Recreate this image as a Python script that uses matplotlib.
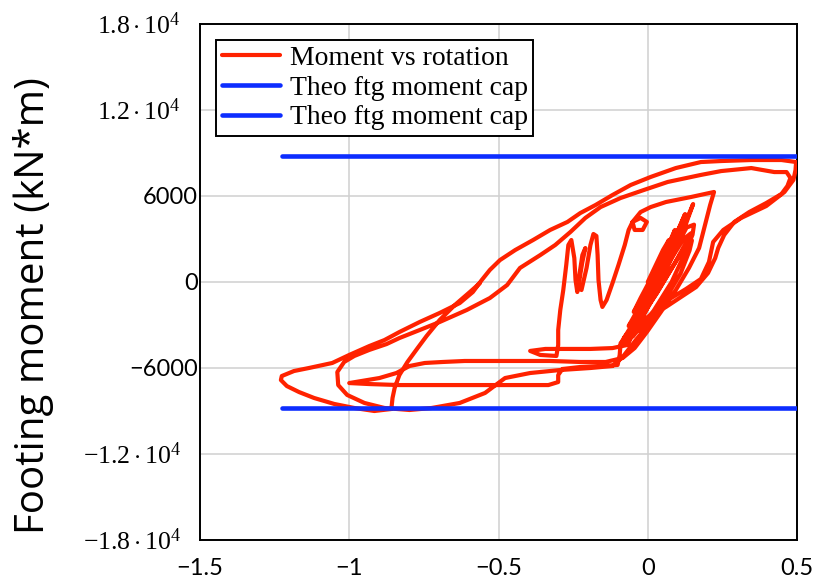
import numpy as np
import matplotlib
matplotlib.use("Agg")
import matplotlib.pyplot as plt

# mathtext in a Times-like serif for the "x.x·10^4" tick labels
plt.rcParams['mathtext.fontset'] = 'custom'
plt.rcParams['mathtext.rm'] = 'Liberation Serif'
plt.rcParams['mathtext.it'] = 'Liberation Serif:italic'
plt.rcParams['mathtext.bf'] = 'Liberation Serif:bold'

# footing rotation and moment (kN*m)
# small cycles around the origin
rot1 = [0.000, 0.027, 0.051, 0.071, 0.057, 0.017, -0.024, -0.047, -0.034, 0.003,
        0.037, 0.067, 0.091, 0.081, 0.044, 0.003, -0.034, -0.064, -0.047, -0.007,
        0.030, 0.071, 0.108, 0.125, 0.111, 0.071, 0.024, -0.020, -0.057, -0.077,
        -0.054, -0.013, 0.030, 0.071, 0.111, 0.145, 0.152, 0.138, 0.098, 0.051,
        0.003, -0.037, -0.040, 0.010, 0.057, 0.094, 0.118, 0.104, 0.054, 0.017,
        -0.030, -0.067,
        -0.080, -0.030, 0.030, 0.090, 0.130, 0.145, 0.120, 0.060, 0.000, -0.050,
        -0.085, -0.050, 0.020, 0.080, 0.120, 0.150, 0.155, 0.130, 0.090, 0.040,
        -0.010, -0.060, -0.020, 0.050, 0.110, 0.140, 0.148, 0.120, 0.070, 0.020,
        -0.030, -0.070]
mom1 = [0, 1190, 2230, 2930, 2230, 490, -1120, -2090, -1670, -280,
        1190, 2510, 3630, 3070, 1400, -420, -1950, -3070, -2650, -1260,
        280, 2090, 3910, 4740, 4050, 2230, 140, -1670, -3350, -4190,
        -3770, -2300, -560, 1260, 3070, 5020, 5440, 4740, 2650, 560,
        -1400, -3070, -3350, -980, 1400, 3210, 4190, 3490, 980, -700,
        -2790, -4330,
        -3900, -2600, -800, 1300, 2800, 3400, 3000, 1000, -1000, -2900,
        -4100, -3800, -2000, 0, 1800, 3300, 4000, 3800, 2200, 300,
        -1700, -3600, -3300, -1500, 600, 2200, 2900, 2300, 600, -1100,
        -2800, -4400]

# -0.4 cycle, the wiggles in the middle, up to the 0.22 peak
rot2 = [-0.118, -0.192, -0.293, -0.343, -0.394, -0.360, -0.306, -0.300, -0.300, -0.293,
        -0.283, -0.273, -0.266, -0.256, -0.246, -0.242, -0.236, -0.229, -0.219, -0.209,
        -0.219, -0.232, -0.222, -0.205, -0.192, -0.182, -0.172, -0.168, -0.165, -0.158,
        -0.152, -0.138, -0.118, -0.098, -0.077, -0.064, -0.051, -0.024, -0.003, -0.017,
        -0.044, -0.051, -0.024, 0.010, 0.061, 0.145, 0.222]
mom2 = [-4610, -4670, -4670, -4670, -4810, -5090, -5160, -4400, -3350, -1950,
        -560, 1190, 2580, 2930, 1670, 140, -700, 490, 1880, 2370,
        1400, -210, -560, 980, 2580, 3350, 3210, 1880, 140, -1260,
        -1740, -1260, -70, 1190, 2580, 3630, 4190, 4470, 4190, 3630,
        3630, 4190, 4880, 5230, 5580, 5930, 6280]

# -1.0 cycle and first big push to the right
rot3 = [0.209, 0.192, 0.172, 0.138, 0.094, 0.044, -0.003, -0.044, -0.084, -0.141,
        -0.226, -0.327, -0.428, -0.529, -0.613, -0.687, -0.747, -0.798, -0.842, -0.899,
        -0.960, -1.000, -0.933, -0.832, -0.697, -0.562, -0.428, -0.333, -0.300, -0.300,
        -0.286, -0.226, -0.158, -0.101, -0.094, -0.091, -0.051, 0.000, 0.061, 0.111,
        0.162, 0.202, 0.226, 0.236, 0.256, 0.290, 0.340, 0.397, 0.448, 0.468,
        0.478, 0.465]
mom3 = [5370, 3980, 2370, 980, -560, -2090, -3490, -4610, -5300, -5580,
        -5580, -5510, -5510, -5510, -5510, -5580, -5650, -5860, -6350, -6700,
        -6910, -7050, -7120, -7190, -7190, -7190, -7190, -7190, -6980, -6490,
        -6070, -5930, -5860, -5790, -5090, -4260, -3350, -2440, -1740, -1050,
        -350, 630, 1670, 2370, 3280, 4190, 4880, 5510, 6140, 6700,
        7260, 7670]

# -1.04 cycle and second big push to the right
rot4 = [0.424, 0.347, 0.246, 0.178, 0.067, -0.013, -0.091, -0.158, -0.209, -0.259,
        -0.310, -0.360, -0.428, -0.471, -0.529, -0.606, -0.697, -0.764, -0.832, -0.875,
        -0.933, -0.983, -1.017, -1.040, -1.037, -1.007, -0.949, -0.882, -0.798, -0.724,
        -0.630, -0.545, -0.478, -0.394, -0.293, -0.192, -0.118, -0.084, -0.040, 0.010,
        0.067, 0.128, 0.178, 0.205, 0.219, 0.253, 0.313, 0.397, 0.458, 0.488,
        0.495, 0.497]
mom4 = [7670, 7950, 7740, 7470, 6980, 6420, 5860, 5230, 4470, 3490,
        2580, 1880, 980, -210, -1120, -1950, -2790, -3350, -3910, -4330,
        -4740, -5160, -5580, -6280, -7190, -7880, -8440, -8790, -8930, -8790,
        -8440, -7740, -6700, -6350, -6140, -6000, -5860, -5230, -4050, -2790,
        -1260, -490, 210, 1400, 2790, 3630, 4470, 5300, 6280, 7120,
        7810, 8370]

# last cycle out to -1.23
rot5 = [0.448, 0.347, 0.246, 0.178, 0.094, 0.010, -0.057, -0.118, -0.175, -0.226,
        -0.269, -0.327, -0.384, -0.444, -0.495, -0.529, -0.556, -0.586, -0.630, -0.697,
        -0.764, -0.832, -0.882, -0.933, -1.000, -1.057, -1.135, -1.185, -1.226, -1.229,
        -1.209, -1.168, -1.118, -1.050, -0.983, -0.916, -0.859, -0.855, -0.848, -0.832,
        -0.805, -0.771, -0.741, -0.697, -0.646, -0.596, -0.562]
mom5 = [8510, 8510, 8440, 8370, 7950, 7330, 6770, 6070, 5370, 4810,
        4190, 3630, 2930, 2230, 1530, 840, 140, -700, -1470, -2160,
        -2790, -3490, -4050, -4470, -5090, -5650, -6000, -6210, -6560, -6840,
        -7260, -7680, -8090, -8510, -8790, -9000, -8860, -8090, -7400, -6490,
        -5580, -4610, -3770, -2650, -1600, -700, -70]

# theoretical footing moment capacity
cap_rot = [-1.225, 0.5]
cap_pos = 8790
cap_neg = -8790

x_ticks = [-1.5, -1.0, -0.5, 0.0, 0.5]
x_labels = ['\u22121.5', '\u22121', '\u22120.5', '0', '0.5']
y_ticks = [-18000, -12000, -6000, 0, 6000, 12000, 18000]
y_labels = [r'$-1.8\cdot10^{4}$', r'$-1.2\cdot10^{4}$', '\u22126000', '0',
            '6000', r'$1.2\cdot10^{4}$', r'$1.8\cdot10^{4}$']

red = '#ff2200'
blue = '#0d2dff'

fig = plt.figure(figsize=(8.27, 5.84), dpi=100)
ax = fig.add_axes([200 / 827, 1 - 540 / 584, 597 / 827, 516 / 584])

rotation = np.concatenate([rot1, rot2, rot3, rot4, rot5])
moment = np.concatenate([mom1, mom2, mom3, mom4, mom5])

ax.plot(rotation, moment, color=red, lw=3.0, solid_joinstyle='round',
        solid_capstyle='round', label='Moment vs rotation', zorder=3)
ax.plot(cap_rot, [cap_pos, cap_pos], color=blue, lw=3.3, solid_capstyle='round',
        label='Theo ftg moment cap', zorder=4)
ax.plot(cap_rot, [cap_neg, cap_neg], color=blue, lw=3.3, solid_capstyle='round',
        label='Theo ftg moment cap', zorder=4)

ax.set_xlim(-1.5, 0.5)
ax.set_ylim(-18000, 18000)
ax.set_xticks(x_ticks)
ax.set_xticklabels(x_labels, fontfamily='Lato', fontsize=17)
ax.set_yticks(y_ticks)
ax.set_yticklabels(y_labels)

ax.tick_params(axis='both', length=0)
ax.tick_params(axis='x', pad=13)
ax.tick_params(axis='y', pad=1.5)

# plain numbers in sans, the x.x·10^4 ones in serif and set further out
for tick, text in zip(ax.yaxis.get_major_ticks(), y_labels):
    if '$' in text:
        tick.label1.set_fontsize(18.5)
        tick.set_pad(14)
    else:
        tick.label1.set_fontfamily('Lato')
        tick.label1.set_fontsize(17)

ax.grid(True, color='#d0d0d0', lw=1.1)
ax.set_axisbelow(True)
for sp in ax.spines.values():
    sp.set_linewidth(1.4)
    sp.set_color('black')

leg = ax.legend(loc='upper left', bbox_to_anchor=(216 / 827, 1 - 40 / 584),
                bbox_transform=fig.transFigure, prop={'family': 'Liberation Serif', 'size': 20},
                frameon=True, fancybox=False, edgecolor='black', framealpha=1,
                borderaxespad=0, borderpad=0.2, handlelength=2.1, handletextpad=0.35,
                labelspacing=0.15)
leg.get_frame().set_linewidth(1.4)

fig.text(0.04, 1 - 306 / 584, 'Footing moment (kN*m)', rotation=90,
         fontfamily='Open Sans', fontsize=29, ha='center', va='center')

fig.savefig('out.png', dpi=100)
